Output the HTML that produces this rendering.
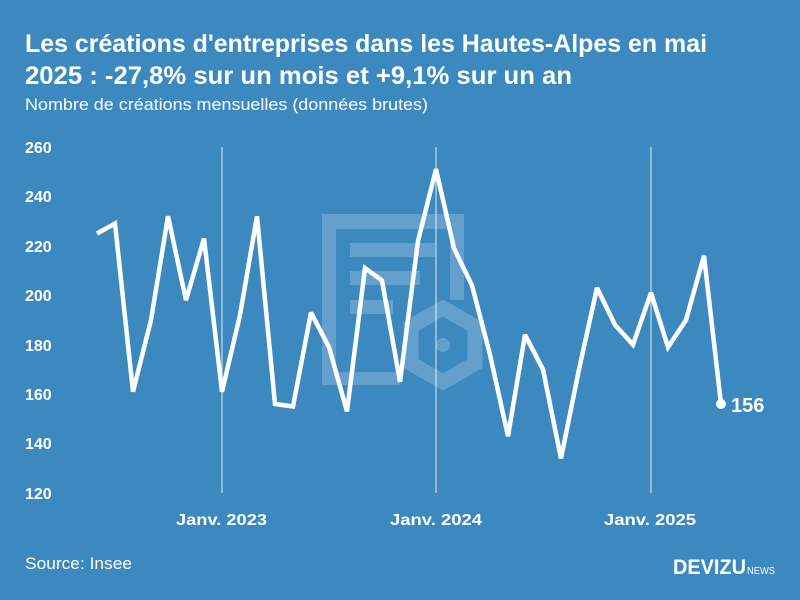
<!DOCTYPE html>
<html><head><meta charset="utf-8"><style>
body{margin:0;width:800px;height:600px;background:#3c89c0;overflow:hidden;font-family:"Liberation Sans",sans-serif}
</style></head><body>
<svg width="800" height="600" xmlns="http://www.w3.org/2000/svg" style="position:absolute;left:0;top:0">
<rect width="800" height="600" fill="#3c89c0"/>
<g fill="#fff" fill-opacity="0.2">
<rect x="322" y="214" width="14" height="171"/>
<rect x="336" y="214" width="128" height="15"/>
<rect x="450" y="229" width="14" height="71"/>
<rect x="336" y="372" width="64" height="13"/>
<rect x="350" y="243" width="85" height="14"/>
<rect x="350" y="271" width="70" height="14"/>
<rect x="350" y="300" width="43" height="14"/>
<circle cx="443" cy="345" r="7"/>
</g>
<polygon points="443,308 475,326.5 475,363.5 443,382 411,363.5 411,326.5" fill="none" stroke="#fff" stroke-opacity="0.2" stroke-width="15"/>
<g stroke="#fff" stroke-width="1" stroke-opacity="0.85">
<line x1="222" y1="147" x2="222" y2="493"/>
<line x1="436" y1="147" x2="436" y2="493"/>
<line x1="651" y1="147" x2="651" y2="493"/>
</g>
<g fill="#fff" font-weight="bold" font-size="16">
<text x="25" y="153">260</text><text x="25" y="202">240</text><text x="25" y="252">220</text>
<text x="25" y="301">200</text><text x="25" y="351">180</text><text x="25" y="400">160</text>
<text x="25" y="449">140</text><text x="25" y="499">120</text>
<text x="176" y="525" textLength="91" lengthAdjust="spacingAndGlyphs">Janv. 2023</text>
<text x="390" y="525" textLength="92" lengthAdjust="spacingAndGlyphs">Janv. 2024</text>
<text x="604" y="525" textLength="92" lengthAdjust="spacingAndGlyphs">Janv. 2025</text>
</g>
<polyline fill="none" stroke="#fff" stroke-width="4.5" stroke-linejoin="miter" stroke-miterlimit="3" points="97,233.5 115,223.6 133,391.7 151,320 168,216.2 186,300.2 204,238.5 222,391.7 240,315.1 257,216.2 275,404 293,406.5 311,312.6 329,347.2 347,411.4 365,268.1 382,280.5 400,381.8 418,240.9 436,169.2 454,248.3 472,285.4 490,354.6 508,436.2 525,334.8 543,369.4 561,458.4 579,369.4 597,287.9 615,324.9 633,344.7 651,292.8 668,347.2 686,320 704,255.7 721,404"/>
<circle cx="721" cy="404" r="5" fill="#fff"/>
<text x="731" y="412" fill="#fff" font-weight="bold" font-size="20">156</text>
<text x="25" y="52" fill="#fff" font-weight="bold" font-size="25" textLength="682" lengthAdjust="spacingAndGlyphs">Les créations d'entreprises dans les Hautes-Alpes en mai</text>
<text x="25" y="84" fill="#fff" font-weight="bold" font-size="25" textLength="547" lengthAdjust="spacingAndGlyphs">2025 : -27,8% sur un mois et +9,1% sur un an</text>
<text x="25" y="110" fill="#fff" font-size="17" textLength="403" lengthAdjust="spacingAndGlyphs">Nombre de créations mensuelles (données brutes)</text>
<text x="25" y="569" fill="#fff" font-size="17" textLength="107" lengthAdjust="spacingAndGlyphs">Source: Insee</text>
<text x="673" y="574" fill="#fff" font-weight="bold" font-size="21" textLength="73" lengthAdjust="spacingAndGlyphs">DEVIZU</text>
<text x="747" y="574" fill="#fff" font-size="10" textLength="28" lengthAdjust="spacingAndGlyphs">NEWS</text>
</svg>
</body></html>
